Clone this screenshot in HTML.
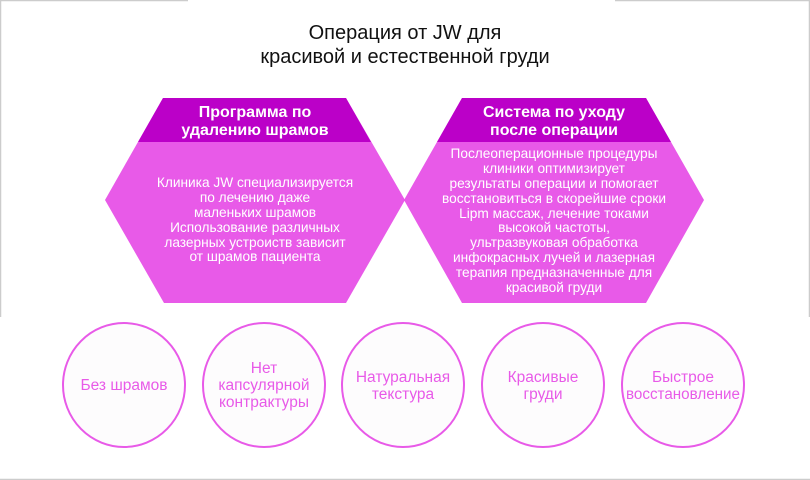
<!DOCTYPE html>
<html><head><meta charset="utf-8"><style>
html,body{margin:0;padding:0;background:#fff}
svg{display:block}
text{font-family:"Liberation Sans",Arial,sans-serif}
</style></head><body>
<svg width="810" height="480" viewBox="0 0 810 480" xmlns="http://www.w3.org/2000/svg">
<rect width="810" height="480" fill="#fff"/>
<line x1="0" y1="0.5" x2="188" y2="0.5" stroke="#ccc" stroke-width="1.5"/>
<line x1="615" y1="0.5" x2="810" y2="0.5" stroke="#ccc" stroke-width="1.5"/>
<line x1="0.5" y1="0" x2="0.5" y2="317" stroke="#ccc" stroke-width="1.5"/>
<line x1="809.5" y1="0" x2="809.5" y2="317" stroke="#ccc" stroke-width="1.5"/>
<line x1="0" y1="479.5" x2="810" y2="479.5" stroke="#ccc" stroke-width="1.5"/>

<text x="405" y="39" font-size="20" text-anchor="middle" fill="#111">Операция от JW для</text>
<text x="405" y="63" font-size="20" text-anchor="middle" fill="#111">красивой и естественной груди</text>

<!-- left hexagon -->
<polygon points="163,98 346,98 405,200 346,303 164,303 105,200" fill="#e85ae8"/>
<polygon points="163,98 346,98 371,142 138,142" fill="#bb00c8"/>
<g fill="#fff" font-size="16" font-weight="bold" text-anchor="middle">
<text x="255" y="117">Программа по</text>
<text x="255" y="135">удалению шрамов</text>
</g>
<g fill="#fff" font-size="13.7" text-anchor="middle">
<text x="255" y="187">Клиника JW специализируется</text>
<text x="255" y="202">по лечению даже</text>
<text x="255" y="217">маленьких шрамов</text>
<text x="255" y="232">Использование различных</text>
<text x="255" y="247">лазерных устроиств зависит</text>
<text x="255" y="261">от шрамов пациента</text>
</g>

<!-- right hexagon -->
<polygon points="462,98 646,98 704,200 646,303 462,303 404,200" fill="#e85ae8"/>
<polygon points="462,98 646,98 671,142 437,142" fill="#bb00c8"/>
<g fill="#fff" font-size="16" font-weight="bold" text-anchor="middle">
<text x="554" y="117">Система по уходу</text>
<text x="554" y="135">после операции</text>
</g>
<g fill="#fff" font-size="13.7" text-anchor="middle">
<text x="554" y="158">Послеоперационные процедуры</text>
<text x="554" y="173">клиники оптимизирует</text>
<text x="554" y="188">результаты операции и помогает</text>
<text x="554" y="203">восстановиться в скорейшие сроки</text>
<text x="554" y="218">Lipm массаж, лечение токами</text>
<text x="554" y="232">высокой частоты,</text>
<text x="554" y="247">ультразвуковая обработка</text>
<text x="554" y="262">инфокрасных лучей и лазерная</text>
<text x="554" y="277">терапия предназначенные для</text>
<text x="554" y="292">красивой груди</text>
</g>

<!-- circles -->
<g fill="#fdfcfd" stroke="#e85ae8" stroke-width="2">
<ellipse cx="124" cy="385" rx="61" ry="62"/>
<ellipse cx="264" cy="385" rx="61" ry="62"/>
<ellipse cx="403" cy="385" rx="61" ry="62"/>
<ellipse cx="543" cy="385" rx="61" ry="62"/>
<ellipse cx="683" cy="385" rx="61" ry="62"/>
</g>
<g fill="#e85ae8" font-size="15.5" text-anchor="middle">
<text x="124" y="390">Без шрамов</text>
<text x="264" y="373">Нет</text>
<text x="264" y="390">капсулярной</text>
<text x="264" y="407">контрактуры</text>
<text x="403" y="382">Натуральная</text>
<text x="403" y="399">текстура</text>
<text x="543" y="382">Красивые</text>
<text x="543" y="399">груди</text>
<text x="683" y="382">Быстрое</text>
<text x="683" y="399" textLength="114" lengthAdjust="spacingAndGlyphs">восстановление</text>
</g>
</svg>
</body></html>
